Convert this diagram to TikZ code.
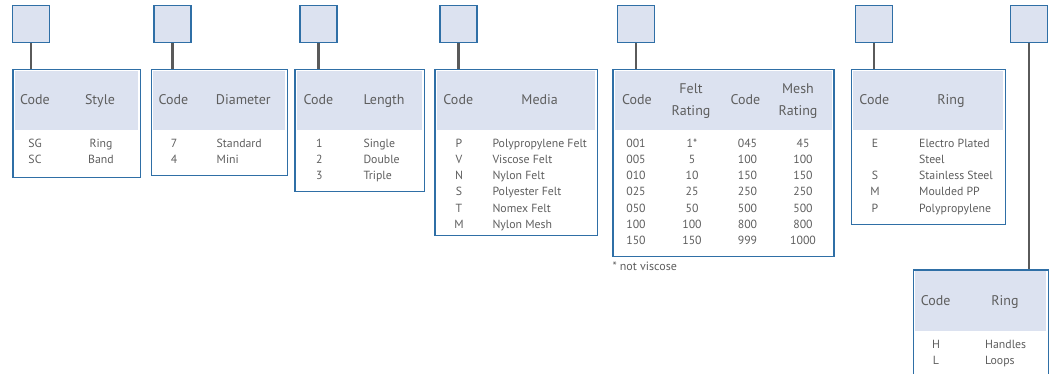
\documentclass[tikz,border=0pt]{standalone}
\usepackage{fontspec}
\setmainfont{PT Sans}
\usepackage{tikz}
\usetikzlibrary{positioning}
\definecolor{boxblue}{HTML}{2F6FA6}
\definecolor{hdrfill}{HTML}{DCE2F0}
\definecolor{stemgrey}{HTML}{5A5A5A}
\definecolor{txtgrey}{HTML}{5E5E5E}

\begin{document}
\begin{tikzpicture}[x=1pt, y=-1pt,
  codesq/.style={draw=boxblue, fill=hdrfill, line width=1.2pt, minimum size=37pt, inner sep=0pt},
  codebox/.style={draw=boxblue, line width=1.2pt, anchor=north west, inner sep=0pt},
  hdrband/.style={fill=hdrfill, anchor=north west, inner sep=0pt, minimum height=59.5pt},
  stem/.style={draw=stemgrey, line width=2.2pt},
  head/.style={text=txtgrey, font=\fontsize{14}{22}\selectfont, anchor=base, inner sep=0pt},
  headl/.style={head, anchor=base west},
  cell/.style={text=txtgrey, font=\fontsize{11.8}{16}\selectfont, anchor=base, inner sep=0pt},
  celll/.style={cell, anchor=base west}]
\clip (0,0) rectangle (1049,374);
% code squares
\node[codesq] (sq1) at (31.3,24.3) {};
\node[codesq] (sq2) at (172.5,24.3) {};
\node[codesq] (sq3) at (318.5,24.3) {};
\node[codesq] (sq4) at (458.5,24.3) {};
\node[codesq] (sq5) at (635.8,24.3) {};
\node[codesq] (sq6) at (874.2,24.3) {};
\node[codesq] (sq7) at (1028.8,24.3) {};
% header bands
\node[hdrband, minimum width=123.7pt] (hd1) at (14.3,70.5) {};
\node[hdrband, minimum width=131.7pt] (hd2) at (153,70.5) {};
\node[hdrband, minimum width=125.7pt] (hd3) at (296.3,70.5) {};
\node[hdrband, minimum width=158.4pt] (hd4) at (436.3,70.5) {};
\node[hdrband, minimum width=217pt] (hd5) at (614.3,70.5) {};
\node[hdrband, minimum width=150.3pt] (hd6) at (852.7,70.5) {};
\node[hdrband, minimum width=130.8pt] (hd7) at (914.7,270.8) {};
% boxes
\node[codebox, minimum width=127.7pt, minimum height=107.7pt] (bx1) at (12.3,69) {};
\node[codebox, minimum width=135.7pt, minimum height=106pt] (bx2) at (151,69) {};
\node[codebox, minimum width=129.7pt, minimum height=121.7pt] (bx3) at (294.3,69) {};
\node[codebox, minimum width=162.4pt, minimum height=166pt] (bx4) at (434.3,69) {};
\node[codebox, minimum width=221pt, minimum height=187pt] (bx5) at (612.3,69) {};
\node[codebox, minimum width=154.3pt, minimum height=155pt] (bx6) at (850.7,69) {};
\node[codebox, minimum width=134.8pt, minimum height=150pt] (bx7) at (912.7,269.3) {};
% stems
\foreach \n in {1,...,7}
  \draw[stem] (sq\n.south) -- (sq\n.south |- bx\n.north);
% style
\node[head] (h1a) at (35,105) {Code};
\node[head] (h1b) at (100,105) {Style};
\foreach \cd/\val [count=\i] in {SG/Ring, SC/Band} {
  \node[cell] (c1a\i) at (35,132+16*\i) {\cd};
  \node[cell] (c1b\i) at (101,132+16*\i) {\val};
}
% diameter
\node[head] (h2a) at (173.5,105) {Code};
\node[headl] (h2b) at (215.7,105) {Diameter};
\foreach \cd/\val [count=\i] in {7/Standard, 4/Mini} {
  \node[cell] (c2a\i) at (174,132+16*\i) {\cd};
  \node[celll] (c2b\i) at (216.5,132+16*\i) {\val};
}
% length
\node[head] (h3a) at (318.5,105) {Code};
\node[headl] (h3b) at (363.3,105) {Length};
\foreach \cd/\val [count=\i] in {1/Single, 2/Double, 3/Triple} {
  \node[cell] (c3a\i) at (319.3,132+16*\i) {\cd};
  \node[celll] (c3b\i) at (363.3,132+16*\i) {\val};
}
% media
\node[head] (h4a) at (458.3,105) {Code};
\node[head] (h4b) at (539.7,105) {Media};
\foreach \cd/\val [count=\i] in {P/Polypropylene Felt, V/Viscose Felt, N/Nylon Felt,
    S/Polyester Felt, T/Nomex Felt, M/Nylon Mesh} {
  \node[cell] (c4a\i) at (459,132+16*\i) {\cd};
  \node[celll] (c4b\i) at (492.3,132+16*\i) {\val};
}
% rating
\node[head] (h5a) at (637,105) {Code};
\node[head] (h5b) at (691,93.3) {Felt};
\node[head] (h5c) at (691,115.5) {Rating};
\node[head] (h5d) at (745.5,105) {Code};
\node[head] (h5e) at (798,93.3) {Mesh};
\node[head] (h5f) at (798,115.5) {Rating};
\foreach \fc/\fr/\mc/\mr [count=\i] in {001/1*/045/45, 005/5/100/100, 010/10/150/150,
    025/25/250/250, 050/50/500/500, 100/100/800/800, 150/150/999/1000} {
  \node[cell] (c5a\i) at (636,132+16*\i) {\fc};
  \node[cell] (c5b\i) at (692,132+16*\i) {\fr};
  \node[cell] (c5c\i) at (747.5,132+16*\i) {\mc};
  \node[cell] (c5d\i) at (803,132+16*\i) {\mr};
}
\node[celll, font=\fontsize{12}{14}\selectfont] (fn5) at (612.3,270.5) {* not viscose};
% ring
\node[head] (h6a) at (874.3,105) {Code};
\node[head] (h6b) at (951,105) {Ring};
\foreach \cd/\val [count=\i] in {E/Electro Plated, /Steel, S/Stainless Steel,
    M/Moulded PP, P/Polypropylene} {
  \node[cell] (c6a\i) at (875,132+16*\i) {\cd};
  \node[celll] (c6b\i) at (919,132+16*\i) {\val};
}
% ring (handles)
\node[head] (h7a) at (935.7,305) {Code};
\node[head] (h7b) at (1005,305) {Ring};
\foreach \cd/\val [count=\i] in {H/Handles, L/Loops} {
  \node[cell] (c7a\i) at (936,332+16*\i) {\cd};
  \node[celll] (c7b\i) at (985,332+16*\i) {\val};
}
\end{tikzpicture}
\end{document}
